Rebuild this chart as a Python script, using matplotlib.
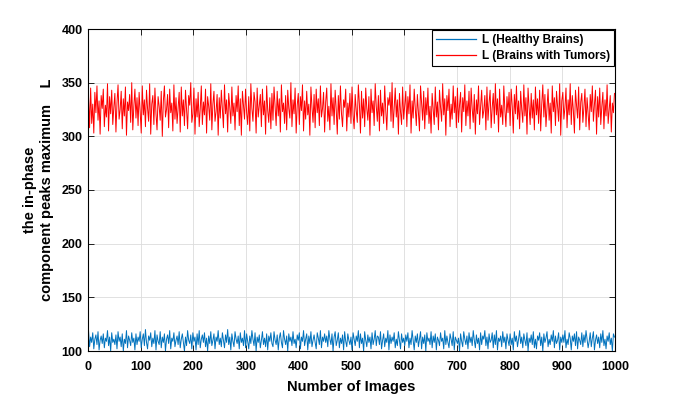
import matplotlib
matplotlib.use('Agg')
import matplotlib.pyplot as plt
import numpy as np

# every second image, values read (roughly) off the reference
tumor = [
    336,308,345,312,330,303,341,322,347,315,333,302,338,326,344,309,329,318,349,305,337,321,343,311,327,
    340,304,331,348,316,325,342,307,335,319,346,301,332,324,339,313,350,306,328,344,317,336,310,341,323,
    303,347,320,334,309,343,326,314,349,302,330,338,311,345,321,306,337,328,315,342,300,333,347,318,325,
    339,308,344,322,331,305,348,316,336,312,327,341,304,346,319,334,310,343,324,307,338,329,350,313,321,
    345,302,335,318,341,309,326,347,311,332,320,344,303,337,328,315,349,306,330,342,314,323,339,301,336,
    317,343,325,308,348,321,334,304,340,327,312,346,319,331,306,338,323,347,310,335,301,342,329,316,344,
    322,311,337,305,349,326,314,341,332,303,345,318,328,339,309,344,320,333,302,347,324,313,336,307,340,
    315,346,327,310,342,319,335,304,348,323,331,312,338,306,343,326,317,350,309,334,321,345,303,329,340,
    311,337,324,348,305,333,316,342,320,330,301,346,327,313,339,308,344,322,335,310,347,318,326,341,304,
    332,345,314,328,306,349,319,336,311,343,325,302,338,316,347,321,309,334,327,344,305,331,318,340,312,
    346,320,307,339,324,313,348,330,303,342,317,335,309,345,326,315,337,301,344,322,333,310,349,328,314,
    338,305,343,319,331,312,347,324,306,336,329,341,314,350,308,327,345,318,334,302,340,323,311,346,316,
    329,342,309,337,321,348,303,333,317,344,326,310,339,322,305,347,331,315,342,307,336,320,345,312,328,
    303,340,325,311,346,318,332,306,343,327,314,349,320,335,301,338,324,344,309,330,316,347,322,337,308,
    345,313,329,341,304,336,323,348,310,333,319,342,307,345,326,313,339,302,334,321,347,311,328,343,317,
    324,338,306,346,315,331,343,308,327,340,312,349,320,335,304,344,318,329,311,347,325,309,337,322,341,
    310,344,328,303,339,321,347,316,333,307,342,325,313,348,319,336,302,345,327,311,340,317,334,306,346,
    320,335,312,343,305,330,348,318,339,309,326,344,315,331,303,347,323,336,310,342,328,314,349,301,333,
    341,316,327,345,308,334,320,349,311,338,324,303,343,329,317,346,306,332,340,313,327,344,309,336,321,
    306,339,323,347,314,330,343,302,337,318,345,311,328,341,307,334,319,348,312,325,338,304,331,322,340,
]
healthy = [
    119,104,113,108,117,102,111,115,106,118,101,110,114,107,116,103,112,109,119,105,113,100,117,108,111,
    106,115,102,118,109,113,104,116,100,111,107,119,103,114,110,105,117,108,112,101,116,106,113,109,118,
    103,111,116,105,120,108,102,114,110,117,104,112,107,119,101,115,109,106,118,103,113,108,116,100,111,
    115,107,119,102,112,109,117,104,110,114,106,118,103,111,116,108,100,113,105,119,110,107,115,102,117,
    109,113,101,116,106,119,103,111,115,108,117,104,112,100,114,107,118,105,110,116,102,113,109,119,106,
    112,104,117,110,103,115,108,120,106,113,101,116,109,104,118,111,107,114,102,117,108,112,105,119,103,
    116,109,102,114,107,119,111,105,117,100,113,108,115,103,110,118,106,112,104,116,101,114,109,117,107,
    104,118,110,106,115,101,112,117,108,103,119,111,106,114,100,116,109,113,105,118,107,111,103,115,110,
    117,102,113,109,119,105,111,116,101,114,107,118,104,110,115,108,102,117,112,106,119,103,113,109,116,
    108,114,104,119,111,106,116,100,113,118,105,110,117,103,112,107,115,101,118,109,104,116,110,106,113,
    101,117,111,105,114,109,119,103,116,107,112,100,118,110,104,115,108,113,102,117,106,111,119,105,114,
    113,106,118,102,110,116,104,112,108,119,101,115,107,113,109,117,103,111,105,118,110,102,116,108,112,
    105,115,109,117,103,112,106,119,110,101,114,108,116,104,111,118,102,113,107,115,100,117,109,112,106,
    118,103,114,108,116,101,113,110,105,117,109,112,102,119,106,114,108,103,116,111,105,118,101,113,110,
    107,112,100,116,109,104,118,111,106,114,102,117,108,113,105,119,110,103,115,107,112,101,117,106,114,
    111,119,105,113,102,116,108,110,117,103,115,106,119,101,112,109,114,104,118,108,113,102,116,110,105,
    116,106,112,101,118,109,114,104,111,119,107,113,103,116,110,105,117,100,112,108,115,106,118,103,111,
    102,114,110,117,105,113,100,116,108,112,118,104,111,106,115,109,119,103,114,107,110,117,101,113,108,
    115,108,119,103,111,106,117,112,101,114,109,116,105,118,102,113,110,106,117,104,115,108,119,111,103,
    109,117,104,112,118,101,110,115,107,113,103,116,108,119,105,111,102,114,109,117,106,112,100,116,113,
]
images = np.arange(1, 1001, 2)

xticks = list(range(0, 1001, 100))
yticks = list(range(100, 401, 50))

plt.rcParams['font.family'] = ['Liberation Sans', 'DejaVu Sans']
plt.rcParams['font.weight'] = 'bold'

fig = plt.figure(figsize=(6.8, 3.96), dpi=100)
# axes box: x 88..615 px, y 29..351 px
ax = fig.add_axes([88/680, 45/396, 527/680, 322/396])

ax.plot(images, healthy, color='#0072BD', lw=0.7, label='L (Healthy Brains)')
ax.plot(images, tumor, color='#FF0000', lw=0.7, label='L (Brains with Tumors)')

ax.set_xlim(0, 1000)
ax.set_ylim(100, 400)
ax.set_xticks(xticks)
ax.set_yticks(yticks)
ax.tick_params(direction='in', top=True, right=True, labelsize=9, length=4, width=0.6)
ax.tick_params(axis='x', pad=7)
ax.tick_params(axis='y', pad=4)
for lab in ax.get_xticklabels() + ax.get_yticklabels():
    lab.set_fontweight('bold')
ax.grid(True, color='#dcdcdc', linewidth=0.6)
ax.set_axisbelow(True)
for s in ax.spines.values():
    s.set_linewidth(0.8)

ax.set_xlabel('Number of Images', fontsize=10.5, fontweight='bold', labelpad=5)
ax.set_ylabel('the in-phase\ncomponent peaks maximum    L', fontsize=10.5,
              fontweight='bold', labelpad=5, linespacing=1.3)

leg = ax.legend(loc='upper right', fontsize=8.6, handlelength=3.3, fancybox=False,
                framealpha=1, edgecolor='black', borderaxespad=0.1, borderpad=0.35,
                labelspacing=0.3, handletextpad=0.5)
leg.get_frame().set_linewidth(0.8)
for h, c in zip(leg.get_lines(), ['#0072BD', '#FF0000']):
    h.set_color(c)
    h.set_linewidth(0.9)

plt.savefig('out.png', dpi=100)
